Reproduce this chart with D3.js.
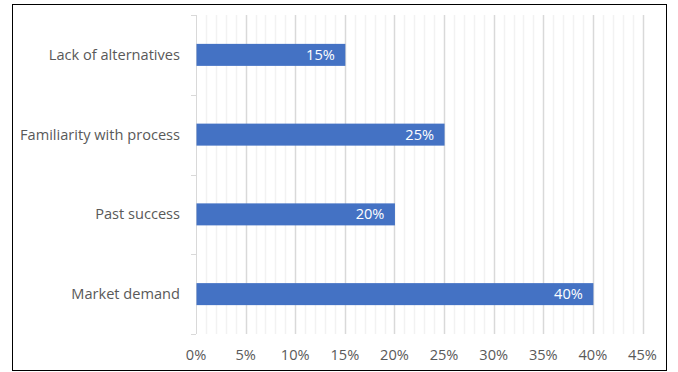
<!DOCTYPE html>
<html>
<head>
<meta charset="utf-8">
<script src="https://cdn.jsdelivr.net/npm/d3@7/dist/d3.min.js"></script>
<style>
  html, body { margin: 0; padding: 0; background: #fff; }
  svg text { font-family: "Open Sans", Lato, sans-serif; }
</style>
</head>
<body>
<svg id="chart" width="678" height="372"></svg>
<script>
// Reasons and their share of responses (top to bottom)
const categories = ["Lack of alternatives", "Familiarity with process", "Past success", "Market demand"];
const values = [0.15, 0.25, 0.20, 0.40];
const majorTicks = [0, 0.05, 0.10, 0.15, 0.20, 0.25, 0.30, 0.35, 0.40, 0.45];
const minorTicks = d3.range(0, 46).map(d => d / 100);

(function draw() {
  const svg = d3.select("#chart");
  const fontSize = 14.6;

  // outer frame
  svg.append("rect")
    .attr("x", 12.5).attr("y", 4.5)
    .attr("width", 654).attr("height", 366)
    .attr("fill", "#fff").attr("stroke", "#000").attr("stroke-width", 1);

  const plotL = 196, plotR = 642.5, plotT = 15, plotB = 334;

  const x = d3.scaleLinear().domain([0, 0.45]).range([plotL, plotR]);
  const y = d3.scaleBand().domain(categories).range([plotT, plotB]).paddingInner(0.724).paddingOuter(0.362);

  // minor gridlines (every 1%)
  svg.append("g").selectAll("line")
    .data(minorTicks.filter(d => Math.round(d * 100) % 5 !== 0))
    .join("line")
    .attr("x1", d => Math.round(x(d)) + 0.5).attr("x2", d => Math.round(x(d)) + 0.5)
    .attr("y1", plotT).attr("y2", plotB)
    .attr("stroke", "#f2f2f2").attr("stroke-width", 1.5);

  // major gridlines (every 5%)
  svg.append("g").selectAll("line")
    .data(majorTicks.filter(d => d > 0))
    .join("line")
    .attr("x1", d => Math.round(x(d)) + 0.5).attr("x2", d => Math.round(x(d)) + 0.5)
    .attr("y1", plotT).attr("y2", plotB)
    .attr("stroke", "#d9d9d9").attr("stroke-width", 1.5);

  // category axis line with tick marks at band boundaries
  const yAxisG = svg.append("g");
  yAxisG.append("line")
    .attr("x1", plotL + 0.5).attr("x2", plotL + 0.5)
    .attr("y1", plotT).attr("y2", plotB)
    .attr("stroke", "#d9d9d9").attr("stroke-width", 1);
  const boundaries = d3.range(categories.length + 1).map(i => plotT + i * (plotB - plotT) / categories.length);
  yAxisG.selectAll("line.tick")
    .data(boundaries)
    .join("line")
    .attr("class", "tick")
    .attr("x1", plotL - 5).attr("x2", plotL)
    .attr("y1", d => Math.round(d) + 0.5).attr("y2", d => Math.round(d) + 0.5)
    .attr("stroke", "#d9d9d9").attr("stroke-width", 1);

  // category labels
  yAxisG.selectAll("text")
    .data(categories)
    .join("text")
    .attr("x", 180)
    .attr("y", d => y(d) + y.bandwidth() / 2)
    .attr("dy", "0.35em")
    .attr("text-anchor", "end")
    .attr("fill", "#595959")
    .attr("font-size", fontSize)
    .text(d => d);

  // value axis labels
  const fmt = d3.format(".0%");
  svg.append("g").selectAll("text")
    .data(majorTicks)
    .join("text")
    .attr("x", d => x(d))
    .attr("y", 355)
    .attr("dy", "0.35em")
    .attr("text-anchor", "middle")
    .attr("fill", "#595959")
    .attr("font-size", fontSize)
    .text(d => fmt(d));

  // bars
  const data = categories.map((c, i) => ({ c, v: values[i] }));
  svg.append("g").selectAll("rect")
    .data(data)
    .join("rect")
    .attr("x", x(0) + 0.5)
    .attr("y", d => y(d.c))
    .attr("width", d => x(d.v) - x(0))
    .attr("height", y.bandwidth())
    .attr("fill", "#4472c4");

  // value labels inside bar ends
  svg.append("g").selectAll("text")
    .data(data)
    .join("text")
    .attr("x", d => x(d.v) - 10)
    .attr("y", d => y(d.c) + y.bandwidth() / 2)
    .attr("dy", "0.35em")
    .attr("text-anchor", "end")
    .attr("fill", "#fff")
    .attr("font-size", fontSize)
    .text(d => fmt(d.v));
})();
</script>
</body>
</html>
